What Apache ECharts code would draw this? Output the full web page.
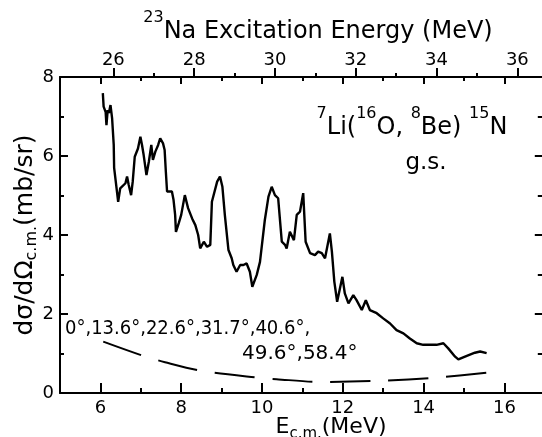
<!DOCTYPE html>
<html>
<head>
<meta charset="utf-8">
<script src="https://cdn.jsdelivr.net/npm/echarts@6/dist/echarts.min.js"></script>
<style>
  html, body { margin: 0; padding: 0; background: #fff; }
  #chart { width: 542px; height: 437px; }
</style>
</head>
<body>
<div id="chart"></div>
<script>
// Center-of-mass energy (MeV) of the measured excitation function
const ecm = [6.06, 6.08, 6.13, 6.15, 6.18, 6.21, 6.25, 6.29, 6.33, 6.34, 6.41, 6.44, 6.49, 6.62, 6.66, 6.70,
  6.76, 6.80, 6.85, 6.93, 6.99, 7.03, 7.07, 7.14, 7.20, 7.26, 7.30, 7.36, 7.43, 7.48, 7.55, 7.59, 7.62, 7.65,
  7.69, 7.77, 7.81, 7.85, 7.87, 7.94, 8.00, 8.09, 8.17, 8.27, 8.35, 8.42, 8.47, 8.56, 8.64, 8.72, 8.76, 8.89,
  8.96, 9.02, 9.08, 9.17, 9.25, 9.29, 9.37, 9.46, 9.54, 9.62, 9.70, 9.76, 9.87, 9.95, 10.07, 10.16, 10.24,
  10.32, 10.40, 10.49, 10.57, 10.61, 10.69, 10.79, 10.86, 10.94, 11.02, 11.08, 11.19, 11.31, 11.39, 11.48,
  11.56, 11.68, 11.73, 11.79, 11.86, 11.99, 12.05, 12.14, 12.26, 12.34, 12.47, 12.57, 12.67, 12.84, 13.00,
  13.17, 13.33, 13.50, 13.66, 13.83, 13.99, 14.16, 14.32, 14.49, 14.61, 14.78, 14.86, 15.07, 15.27, 15.40, 15.56];

// dσ/dΩ (mb/sr), 7Li(16O,8Be)15N g.s.
const sigma = [7.59, 7.25, 7.11, 6.78, 7.16, 7.09, 7.29, 6.95, 6.28, 5.70, 5.10, 4.84, 5.18, 5.31, 5.48, 5.27,
  5.01, 5.35, 5.98, 6.19, 6.49, 6.28, 6.03, 5.52, 5.86, 6.28, 5.90, 6.11, 6.28, 6.45, 6.32, 6.15, 5.60, 5.10,
  5.14, 5.10, 4.89, 4.51, 4.08, 4.30, 4.51, 5.01, 4.68, 4.42, 4.25, 4.00, 3.66, 3.83, 3.70, 3.75, 4.84, 5.35,
  5.48, 5.22, 4.51, 3.62, 3.41, 3.24, 3.07, 3.24, 3.24, 3.28, 3.07, 2.69, 2.99, 3.32, 4.38, 4.97, 5.22,
  5.01, 4.93, 3.83, 3.75, 3.66, 4.08, 3.87, 4.51, 4.59, 5.06, 3.83, 3.54, 3.49, 3.58, 3.54,
  3.41, 4.04, 3.58, 2.82, 2.31, 2.94, 2.52, 2.27, 2.48, 2.35, 2.10, 2.35, 2.10, 2.02, 1.89,
  1.76, 1.59, 1.51, 1.38, 1.26, 1.22, 1.22, 1.22, 1.26, 1.13, 0.92, 0.85, 0.94, 1.02, 1.05, 1.01];

// Dashed curve: angle-averaged estimate (0°–58.4°)
const dashEcm = [6.07, 7.06, 7.60, 8.51, 9.87, 10.36, 11.44, 12.92, 14.32, 15.64];
const dashSigma = [1.30, 0.94, 0.78, 0.56, 0.39, 0.35, 0.28, 0.31, 0.39, 0.52];

// Tick values
const ecmMajor = [6, 8, 10, 12, 14, 16];
const ecmMinor = [7, 9, 11, 13, 15, 17];
const exMajor = [26, 28, 30, 32, 34, 36];
const exMinor = [27, 29, 31, 33, 35];
const qShift = 19.68; // E_x(23Na) = E_c.m. + shift

const FONT = 'DejaVu Sans';
const INK = '#000';
const ECM_MIN = 5, ECM_MAX = 17;

const chart = echarts.init(document.getElementById('chart'), null, { renderer: 'canvas' });

function pairs(xs, ys) { return xs.map((x, i) => [x, ys[i]]); }

const lineAx = { show: true, onZero: false, lineStyle: { color: INK, width: 2 } };
const noLine = { show: false, onZero: false };

function tickAxis(pos, min, max, values, len, inside, labels, margin) {
  return {
    type: 'value', position: pos, min: min, max: max,
    axisLine: labels ? lineAx : noLine,
    axisTick: { show: true, inside: inside, length: len, customValues: values, lineStyle: { color: INK, width: 2 } },
    axisLabel: labels
      ? { show: true, customValues: values, color: INK, fontSize: 18, fontFamily: FONT, margin: margin }
      : { show: false },
    splitLine: { show: false }
  };
}

const option = {
  animation: false,
  backgroundColor: '#fff',
  textStyle: { fontFamily: FONT },
  grid: { left: 60, right: -2.8, top: 77, bottom: 44, containLabel: false, outerBoundsMode: 'none' },
  xAxis: [
    tickAxis('bottom', ECM_MIN, ECM_MAX, ecmMajor, 10, true, true, 6),
    tickAxis('bottom', ECM_MIN, ECM_MAX, ecmMinor, 5, true, false),
    tickAxis('top', ECM_MIN + qShift, ECM_MAX + qShift, exMajor, 9, false, true, 8),
    tickAxis('top', ECM_MIN + qShift, ECM_MAX + qShift, exMinor, 4, false, false),
    tickAxis('top', ECM_MIN, ECM_MAX, ecmMajor, 7, true, false),
    tickAxis('top', ECM_MIN, ECM_MAX, ecmMinor, 4, true, false)
  ],
  yAxis: [
    {
      type: 'value', position: 'left', min: 0, max: 8, interval: 2,
      axisLine: lineAx,
      axisTick: { inside: true, length: 8, lineStyle: { color: INK, width: 2 } },
      minorTick: { show: true, splitNumber: 2, length: 4, lineStyle: { color: INK, width: 2 } },
      axisLabel: { color: INK, fontSize: 18, fontFamily: FONT, margin: 6 },
      splitLine: { show: false },
      name: 'dσ/dΩ{sub|c.m.}(mb/sr)',
      nameLocation: 'middle', nameRotate: 90, nameGap: 20, nameMoveOverlap: false,
      nameTextStyle: {
        color: INK, fontSize: 25, fontFamily: FONT, lineHeight: 30,
        rich: { sub: { fontSize: 16, lineHeight: 16, verticalAlign: 'bottom', fontFamily: FONT, color: INK } }
      }
    },
    {
      type: 'value', position: 'right', min: 0, max: 8, interval: 2,
      axisLine: lineAx,
      axisTick: { inside: true, length: 10, lineStyle: { color: INK, width: 2 } },
      minorTick: { show: true, splitNumber: 2, length: 7, lineStyle: { color: INK, width: 2 } },
      axisLabel: { show: false },
      splitLine: { show: false }
    }
  ],
  series: [
    {
      type: 'line', xAxisIndex: 0, yAxisIndex: 0,
      data: pairs(ecm, sigma),
      showSymbol: false, symbol: 'none',
      lineStyle: { color: INK, width: 2.4 },
      z: 5
    },
    {
      type: 'line', xAxisIndex: 0, yAxisIndex: 0,
      data: pairs(dashEcm, dashSigma),
      smooth: 0.3, showSymbol: false, symbol: 'none',
      lineStyle: { color: INK, width: 2, type: [40, 18] },
      z: 4
    }
  ],
  graphic: [
    {
      type: 'text', x: 318, y: 10,
      style: {
        text: '{sup|23}Na Excitation Energy (MeV)',
        align: 'center', verticalAlign: 'top',
        fontSize: 24, fontFamily: FONT, lineHeight: 44, fill: INK,
        rich: { sup: { fontSize: 16, lineHeight: 16, verticalAlign: 'top', fontFamily: FONT, fill: INK } }
      }
    },
    {
      type: 'text', x: 412, y: 106,
      style: {
        text: '{s|7}Li({s|16}O, {s|8}Be) {s|15}N',
        align: 'center', verticalAlign: 'top',
        fontSize: 24, fontFamily: FONT, lineHeight: 44, fill: INK,
        rich: { s: { fontSize: 16, lineHeight: 16, verticalAlign: 'top', fontFamily: FONT, fill: INK } }
      }
    },
    {
      type: 'text', x: 426, y: 152,
      style: { text: 'g.s.', align: 'center', verticalAlign: 'top', fontSize: 23, lineHeight: 23, fontFamily: FONT, fill: INK }
    },
    {
      type: 'text', x: 65, y: 319,
      style: { text: '0°,13.6°,22.6°,31.7°,40.6°,', align: 'left', verticalAlign: 'top', fontSize: 20, lineHeight: 20,
        fontFamily: "'DejaVu Sans Condensed', 'DejaVu Sans'", fill: INK }
    },
    {
      type: 'text', x: 242, y: 344,
      style: { text: '49.6°,58.4°', align: 'left', verticalAlign: 'top', fontSize: 20, lineHeight: 20, fontFamily: FONT, fill: INK }
    },
    {
      type: 'text', x: 331, y: 412,
      style: {
        text: 'E{sub|c.m.}(MeV)',
        align: 'center', verticalAlign: 'top',
        fontSize: 22, fontFamily: FONT, lineHeight: 30, fill: INK,
        rich: { sub: { fontSize: 15, lineHeight: 15, verticalAlign: 'bottom', fontFamily: FONT, fill: INK } }
      }
    }
  ]
};

chart.setOption(option);
</script>
</body>
</html>
